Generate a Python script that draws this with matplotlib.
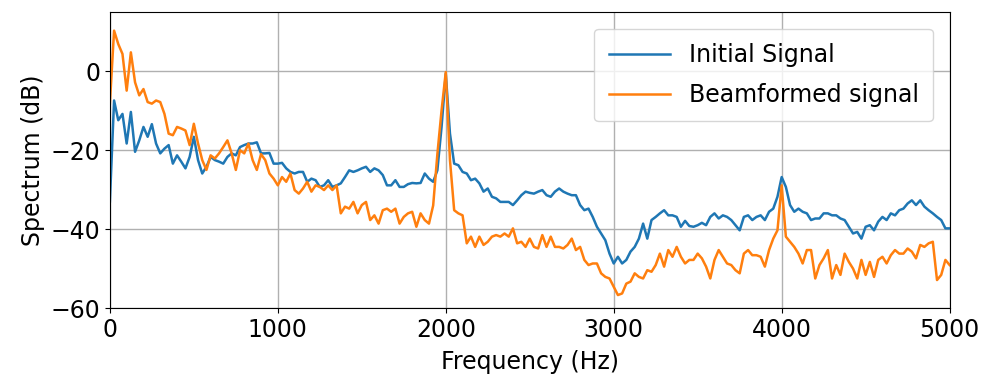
import numpy as np
import matplotlib
matplotlib.use("Agg")
import matplotlib.pyplot as plt

# Frequency grid (Hz), one sample every 25 Hz
freqs = np.arange(0, 5001, 25)

# Spectrum of the initial signal (dB)
initial_db = [
    -33, -7.4, -12.4, -10.8, -18.3, -10.3, -20.4, -17.5, -14.1, -16.6,
    -13.4, -18.3, -20.8, -19.6, -18.7, -23.4, -21.3, -22.9, -24.6, -21.7,
    -16.6, -22.5, -25.9, -24.2, -21.7, -22.5, -22.9, -23.4, -21.7, -20.8,
    -21.3, -19.2, -18.7, -18.3, -18.3, -18.0, -20.8, -20.8, -20.7, -23.4,
    -23.4, -23.2, -24.6, -25.5, -25.9, -25.5, -25.5, -28.0, -27.2, -27.6,
    -29.3, -28.9, -27.6, -29.3, -28.9, -28.4, -26.8, -25.1, -25.5, -25.1,
    -24.6, -24.2, -25.5, -24.6, -25.1, -26.3, -28.9, -28.9, -27.6, -29.3,
    -29.3, -28.6, -28.3, -28.4, -28.3, -25.9, -27.2, -28.0, -25.1, -14.1,
    -0.6, -15.8, -23.4, -23.8, -25.5, -25.9, -27.6, -27.2, -28.4, -30.5,
    -29.7, -31.8, -32.2, -33.1, -33.1, -33.1, -33.9, -32.7, -31.4, -30.5,
    -30.8, -31.0, -30.5, -30.1, -31.4, -31.8, -30.5, -29.7, -30.5, -31.0,
    -31.4, -31.4, -33.9, -35.2, -34.8, -36.9, -39.4, -41.1, -42.8, -46.2,
    -48.7, -47.0, -48.7, -47.8, -45.7, -44.5, -42.4, -38.6, -42.4, -37.7,
    -36.9, -36.0, -35.2, -36.5, -36.5, -36.9, -39.4, -37.9, -39.2, -39.4,
    -39.0, -38.4, -39.0, -36.9, -36.0, -37.3, -36.5, -36.9, -37.7, -39.0,
    -40.3, -36.9, -36.5, -37.7, -36.9, -36.5, -37.7, -35.6, -34.8, -31.8,
    -26.8, -29.3, -33.9, -35.6, -34.8, -35.6, -36.0, -37.7, -37.3, -37.3,
    -36.0, -36.0, -36.5, -36.5, -37.3, -37.7, -39.4, -41.1, -40.7, -42.4,
    -39.4, -39.0, -40.3, -38.1, -36.9, -37.7, -36.0, -36.5, -35.2, -34.8,
    -33.5, -32.7, -33.9, -32.7, -34.3, -35.2, -36.0, -36.9, -37.7, -39.8,
    -39.8,
]

# Spectrum after beamforming (dB)
beamformed_db = [
    -8.2, 10.3, 6.9, 4.4, -4.9, 4.8, -2.8, -6.1, -4.5, -7.8,
    -8.2, -7.4, -7.8, -10.8, -15.8, -16.2, -14.1, -14.5, -15.0, -18.7,
    -13.3, -18.3, -22.5, -25.0, -21.3, -22.1, -20.8, -19.2, -17.5, -20.8,
    -25.0, -20.0, -20.8, -18.3, -22.5, -25.0, -21.0, -22.5, -25.9, -27.2,
    -28.9, -26.8, -28.0, -25.9, -30.1, -31.0, -29.7, -28.0, -30.5, -28.9,
    -29.3, -30.1, -28.9, -30.1, -28.9, -36.0, -34.3, -34.8, -33.1, -36.0,
    -33.9, -33.1, -37.7, -36.5, -38.6, -35.2, -34.8, -35.6, -34.8, -38.6,
    -36.9, -36.0, -35.6, -39.4, -36.0, -37.7, -38.6, -34.0, -21.0, -9.9,
    -0.2, -22.5, -35.2, -36.0, -36.5, -43.6, -41.9, -44.5, -41.9, -44.0,
    -43.2, -41.9, -41.5, -41.9, -41.1, -41.9, -39.8, -43.6, -43.2, -44.5,
    -42.4, -44.5, -44.9, -41.5, -44.5, -41.9, -44.5, -44.5, -44.9, -44.0,
    -42.4, -45.3, -44.5, -47.8, -49.1, -48.7, -48.7, -51.2, -52.1, -52.5,
    -54.6, -56.7, -56.3, -53.8, -53.3, -51.2, -52.1, -52.5, -50.4, -50.8,
    -49.1, -46.2, -49.5, -45.3, -47.0, -44.5, -47.0, -48.7, -47.8, -47.8,
    -46.2, -47.4, -49.5, -52.5, -47.8, -45.3, -47.0, -48.7, -49.1, -50.4,
    -51.2, -46.2, -45.3, -46.6, -46.6, -47.0, -49.5, -45.3, -42.4, -40.3,
    -28.9, -41.9, -43.2, -44.5, -46.2, -48.7, -45.3, -45.3, -52.5, -49.1,
    -47.4, -45.3, -52.5, -49.1, -51.6, -46.2, -48.3, -50.0, -52.5, -47.8,
    -51.6, -48.3, -52.1, -47.8, -47.0, -48.7, -46.6, -45.3, -46.2, -46.2,
    -44.9, -45.7, -47.4, -44.0, -44.5, -43.6, -43.2, -52.9, -51.6, -47.8,
    -49.1,
]

plt.rcParams['font.family'] = ['DejaVu Sans']
plt.rcParams['font.size'] = 17

fig, ax = plt.subplots(figsize=(9.81, 3.78), dpi=100)
fig.subplots_adjust(left=0.112, right=0.968, top=0.968, bottom=0.185)

ax.plot(freqs, initial_db, color='#1f77b4', linewidth=1.8, label='Initial Signal')
ax.plot(freqs, beamformed_db, color='#ff7f0e', linewidth=1.8, label='Beamformed signal')

ax.set_xlim(0, 5000)
ax.set_ylim(-60, 15)
ax.set_yticks([-60, -40, -20, 0])
ax.set_xticks([0, 1000, 2000, 3000, 4000, 5000])
ax.set_xlabel('Frequency (Hz)', labelpad=6)
ax.set_ylabel('Spectrum (dB)')
ax.grid(True, color='#b0b0b0', linewidth=1.0)
ax.legend(loc='upper right', handlelength=2.6, labelspacing=0.7,
          borderpad=0.6, borderaxespad=0.7)

fig.savefig('out.png', dpi=100)
